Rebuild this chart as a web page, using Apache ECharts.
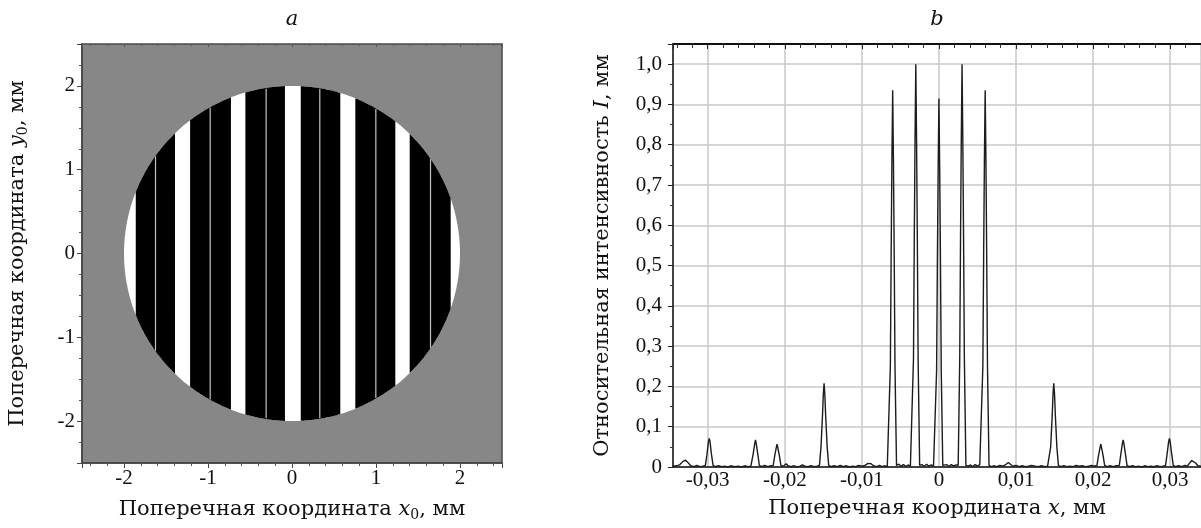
<!DOCTYPE html>
<html>
<head>
<meta charset="utf-8">
<script src="https://cdn.jsdelivr.net/npm/echarts@6/dist/echarts.min.js"></script>
<style>
html,body{margin:0;padding:0;background:#fff;}
#chart{width:1201px;height:528px;}
</style>
</head>
<body>
<div id="chart"></div>
<script>
// ---------- Panel a: binary mask (mm) ----------
const maskRadius = 2;
const maskCenter = [[0, 0]];
const blackStripes = [
  [-1.86, -1.393], [-1.213, -0.727], [-0.555, -0.084],
  [0.104, 0.575], [0.754, 1.23], [1.401, 1.889]
];
const thinLines = [-1.625, -0.974, -0.308, 0.331, 0.998, 1.649];
const maskTicks = ['-2', '-1', '0', '1', '2'];

// ---------- Panel b: intensity profile ----------
const profileX = [
-0.0345,-0.0340,-0.0336,-0.0332,-0.0329,-0.0326,-0.0322,-0.0318,-0.0314,-0.0310,-0.0306,
-0.0303,-0.0301,-0.0299,-0.0298,-0.0297,-0.0295,-0.0293,-0.0290,-0.0286,-0.0282,-0.0278,
-0.0274,-0.0270,-0.0265,-0.0260,-0.0256,-0.0252,-0.0248,-0.0244,
-0.0243,-0.0241,-0.0239,-0.0238,-0.0237,-0.0235,-0.0233,-0.0230,-0.0226,-0.0222,-0.0218,
-0.0215,-0.0213,-0.0211,-0.0210,-0.0209,-0.0207,-0.0205,-0.0202,-0.0200,-0.0198,-0.0196,
-0.0192,-0.0188,-0.0184,-0.0180,-0.0177,-0.0174,-0.0170,-0.0166,-0.0162,-0.0158,
-0.0155,-0.0153,-0.0151,-0.0150,-0.0149,-0.0148,-0.0147,-0.0145,-0.0143,
-0.0140,-0.0136,-0.0132,-0.0128,-0.0124,-0.0120,-0.0116,-0.0112,-0.0108,-0.0104,-0.0100,
-0.0096,-0.0092,-0.0090,-0.0088,-0.0085,-0.0081,-0.0077,-0.0074,-0.0070,-0.0067,
-0.0065,-0.0063,-0.0062,-0.0061,-0.0060,-0.0059,-0.0058,-0.0057,-0.0055,
-0.0052,-0.0049,-0.0046,-0.0043,-0.0040,-0.0037,
-0.0035,-0.0033,-0.0032,-0.0031,-0.0030,-0.0029,-0.0028,-0.0027,-0.0025,
-0.0022,-0.0019,-0.0016,-0.0013,-0.0010,-0.0007,
-0.0005,-0.0003,-0.0002,-0.0001,0.0000,0.0001,0.0002,0.0003,0.0005,
0.0007,0.0010,0.0013,0.0016,0.0019,0.0022,
0.0025,0.0027,0.0028,0.0029,0.0030,0.0031,0.0032,0.0033,0.0035,
0.0038,0.0041,0.0044,0.0047,0.0050,0.0053,
0.0055,0.0057,0.0058,0.0059,0.0060,0.0061,0.0062,0.0063,0.0065,
0.0068,0.0072,0.0075,0.0079,0.0083,0.0086,0.0088,0.0090,0.0092,0.0096,
0.0100,0.0104,0.0108,0.0112,0.0116,0.0120,0.0122,0.0125,0.0129,0.0133,0.0137,0.0141,
0.0143,0.0145,0.0147,0.0148,0.0149,0.0150,0.0151,0.0153,0.0155,
0.0158,0.0162,0.0166,0.0170,0.0174,0.0178,0.0182,0.0186,0.0190,0.0194,0.0198,0.0201,
0.0205,0.0207,0.0209,0.0210,0.0211,0.0213,0.0215,
0.0218,0.0222,0.0226,0.0230,
0.0234,0.0236,0.0238,0.0239,0.0240,0.0242,0.0244,
0.0247,0.0251,0.0255,0.0259,0.0263,0.0267,0.0271,0.0275,0.0279,0.0283,0.0287,0.0291,
0.0294,0.0296,0.0298,0.0299,0.0300,0.0302,0.0304,
0.0307,0.0311,0.0315,0.0319,0.0322,0.0325,0.0328,0.0330,0.0333,0.0336,0.0340
];
const profileI = [
0.002,0.003,0.006,0.014,0.017,0.012,0.003,0.001,0.004,0.001,0.002,
0.004,0.030,0.063,0.071,0.063,0.030,0.004,0.001,0.003,0.001,0.002,
0.000,0.003,0.001,0.002,0.000,0.003,0.001,0.002,
0.004,0.032,0.058,0.067,0.058,0.032,0.004,0.001,0.004,0.001,0.003,
0.004,0.028,0.048,0.057,0.048,0.028,0.004,0.002,0.006,0.008,0.003,
0.001,0.003,0.000,0.002,0.005,0.002,0.001,0.003,0.001,0.002,
0.004,0.050,0.130,0.180,0.208,0.180,0.130,0.050,0.004,
0.001,0.003,0.001,0.004,0.001,0.003,0.000,0.002,0.001,0.004,0.002,
0.004,0.009,0.011,0.008,0.003,0.001,0.004,0.001,0.003,0.001,
0.004,0.250,0.520,0.760,0.935,0.760,0.520,0.250,0.004,
0.007,0.002,0.006,0.001,0.005,0.002,
0.004,0.270,0.560,0.810,1.000,0.810,0.560,0.270,0.004,
0.006,0.001,0.007,0.002,0.005,0.002,
0.004,0.240,0.510,0.740,0.915,0.740,0.510,0.240,0.004,
0.002,0.006,0.001,0.006,0.002,0.005,
0.004,0.270,0.560,0.810,1.000,0.810,0.560,0.270,0.004,
0.002,0.005,0.001,0.006,0.002,0.006,
0.004,0.250,0.520,0.760,0.935,0.760,0.520,0.250,0.004,
0.001,0.003,0.001,0.004,0.002,0.005,0.009,0.011,0.007,0.002,
0.004,0.001,0.003,0.001,0.002,0.004,0.006,0.002,0.001,0.003,0.001,0.002,
0.004,0.050,0.130,0.180,0.208,0.180,0.130,0.050,0.004,
0.001,0.003,0.001,0.002,0.001,0.004,0.002,0.003,0.001,0.002,0.004,0.002,
0.004,0.028,0.048,0.057,0.048,0.028,0.004,
0.001,0.003,0.001,0.003,
0.004,0.032,0.058,0.067,0.058,0.032,0.004,
0.001,0.003,0.001,0.002,0.000,0.003,0.001,0.002,0.001,0.003,0.001,0.002,
0.004,0.032,0.063,0.071,0.063,0.032,0.004,
0.001,0.003,0.001,0.004,0.002,0.009,0.016,0.017,0.010,0.003,0.002
];
const profileTicks = ['-0,03', '-0,02', '-0,01', '0', '0,01', '0,02', '0,03'];
const intensityTicks = ['0', '0,1', '0,2', '0,3', '0,4', '0,5', '0,6', '0,7', '0,8', '0,9', '1,0'];

const FONT = 'Liberation Serif';
const NAME_FONT = 'DejaVu Serif';
const profileData = profileX.map((x, i) => [x, profileI[i]]);

function fmtMask(v) { return Math.abs(v - Math.round(v)) < 1e-9 ? String(Math.round(v)) : ''; }
function fmtProfile(v) {
  if (Math.abs(v) < 1e-9) return '0';
  return v.toFixed(2).replace('.', ',');
}
function fmtIntensity(v) {
  if (Math.abs(v) < 1e-9) return '0';
  return v.toFixed(1).replace('.', ',');
}

const richName = {
  t: { fontFamily: NAME_FONT, fontSize: 21, color: '#111' },
  i: { fontFamily: NAME_FONT, fontSize: 21, fontStyle: 'italic', color: '#111' },
  s: { fontFamily: NAME_FONT, fontSize: 14, color: '#111', padding: [10, 0, 0, 0] }
};

const chart = echarts.init(document.getElementById('chart'), null, { renderer: 'canvas' });

const option = {
  animation: false,
  backgroundColor: '#ffffff',
  graphic: [
    { type: 'text', x: 292, y: 20, style: { text: 'a', font: 'italic 21px "DejaVu Serif"', fill: '#111', textAlign: 'center', textVerticalAlign: 'middle' } },
    { type: 'text', x: 937, y: 20, style: { text: 'b', font: 'italic 21px "DejaVu Serif"', fill: '#111', textAlign: 'center', textVerticalAlign: 'middle' } }
  ],
  grid: [
    { left: 82, top: 44, width: 420, height: 419, show: true, backgroundColor: '#878787', borderColor: '#4a4a4a', borderWidth: 1.5 },
    { left: 673, top: 44, width: 528, height: 423, show: false }
  ],
  xAxis: [
    {
      gridIndex: 0, type: 'value', min: -2.5, max: 2.5, minInterval: 1, maxInterval: 1,
      axisLine: { show: true, onZero: false, lineStyle: { color: '#444', width: 1.5 } },
      axisTick: { show: true, inside: false, length: 5, lineStyle: { color: '#444' } },
      minorTick: { show: true, splitNumber: 5, length: 3, lineStyle: { color: '#555' } },
      splitLine: { show: false },
      axisLabel: { showMinLabel: false, showMaxLabel: false, formatter: fmtMask, fontFamily: FONT, fontSize: 21, color: '#111', margin: 5 },
      name: '{t|Поперечная координата }{i|x}{s|0}{t|, мм}', nameLocation: 'middle', nameGap: 35,
      nameTextStyle: { rich: richName }
    },
    {
      gridIndex: 1, type: 'value', min: -0.0345, max: 0.034, minInterval: 0.01, maxInterval: 0.01,
      axisLine: { show: true, onZero: false, lineStyle: { color: '#111', width: 1.5 } },
      axisTick: { show: false },
      splitLine: { show: true, lineStyle: { color: '#c9c9c9', width: 1.5 } },
      axisLabel: { showMinLabel: false, showMaxLabel: false, formatter: fmtProfile, fontFamily: FONT, fontSize: 21, color: '#111', margin: 3 },
      name: '{t|Поперечная координата }{i|x}{t|, мм}', nameLocation: 'middle', nameGap: 31,
      nameTextStyle: { rich: richName }
    },
    {
      gridIndex: 1, type: 'value', position: 'top', min: -0.0345, max: 0.034, minInterval: 0.01, maxInterval: 0.01,
      axisLine: { show: true, onZero: false, lineStyle: { color: '#111', width: 2 } },
      axisTick: { show: true, inside: true, length: 5, lineStyle: { color: '#222' } },
      minorTick: { show: true, splitNumber: 5, length: 4, lineStyle: { color: '#333' } },
      splitLine: { show: false },
      axisLabel: { show: false }
    },
    {
      gridIndex: 0, type: 'value', position: 'top', min: -2.5, max: 2.5, minInterval: 1, maxInterval: 1,
      axisLine: { show: false, onZero: false },
      axisTick: { show: true, inside: true, length: 3, lineStyle: { color: '#555' } },
      minorTick: { show: true, splitNumber: 5, length: 2, lineStyle: { color: '#5a5a5a' } },
      splitLine: { show: false },
      axisLabel: { show: false }
    }
  ],
  yAxis: [
    {
      gridIndex: 0, type: 'value', min: -2.5, max: 2.5, minInterval: 1, maxInterval: 1,
      axisLine: { show: true, onZero: false, lineStyle: { color: '#444', width: 1.5 } },
      axisTick: { show: true, inside: false, length: 5, lineStyle: { color: '#444' } },
      minorTick: { show: true, splitNumber: 4, length: 3, lineStyle: { color: '#555' } },
      splitLine: { show: false },
      axisLabel: { showMinLabel: false, showMaxLabel: false, formatter: fmtMask, fontFamily: FONT, fontSize: 21, color: '#111', margin: 7 },
      name: '{t|Поперечная координата }{i|y}{s|0}{t|, мм}', nameLocation: 'middle', nameGap: 52,
      nameTextStyle: { rich: richName }
    },
    {
      gridIndex: 1, type: 'value', min: 0, max: 1.05, interval: 0.1,
      axisLine: { show: true, onZero: false, lineStyle: { color: '#111', width: 1.5 } },
      axisTick: { show: true, inside: false, length: 5, lineStyle: { color: '#222' } },
      minorTick: { show: true, splitNumber: 2, length: 3, lineStyle: { color: '#333' } },
      splitLine: { show: true, lineStyle: { color: '#c9c9c9', width: 1.5 } },
      axisLabel: { showMaxLabel: false, formatter: fmtIntensity, fontFamily: FONT, fontSize: 21, color: '#111', margin: 11 },
      name: '{t|Относительная интенсивность }{i|I}{t|, мм}', nameLocation: 'middle', nameGap: 60,
      nameTextStyle: { rich: richName }
    }
  ],
  series: [
    {
      type: 'custom', xAxisIndex: 0, yAxisIndex: 0, data: maskCenter, silent: true, z: 2,
      renderItem: function (params, api) {
        const cx = api.value(0), cy = api.value(1);
        const pts = [];
        for (let k = 0; k <= 180; k++) {
          const t = k / 180 * 2 * Math.PI;
          pts.push(api.coord([cx + maskRadius * Math.cos(t), cy + maskRadius * Math.sin(t)]));
        }
        return { type: 'polygon', shape: { points: pts }, style: { fill: '#ffffff' } };
      }
    },
    {
      type: 'custom', xAxisIndex: 0, yAxisIndex: 0, data: blackStripes, silent: true, z: 3,
      renderItem: function (params, api) {
        const x1 = api.value(0), x2 = api.value(1);
        const n = 40, top = [], bot = [];
        for (let k = 0; k <= n; k++) {
          const x = x1 + (x2 - x1) * k / n;
          const h = Math.sqrt(Math.max(0, maskRadius * maskRadius - x * x));
          top.push(api.coord([x, h]));
          bot.push(api.coord([x, -h]));
        }
        return { type: 'polygon', shape: { points: top.concat(bot.reverse()) }, style: { fill: '#000000' } };
      }
    },
    {
      type: 'custom', xAxisIndex: 0, yAxisIndex: 0, data: thinLines.map(v => [v, 0]), silent: true, z: 4,
      renderItem: function (params, api) {
        const x = api.value(0);
        const h = Math.sqrt(maskRadius * maskRadius - x * x) * 0.995;
        const p1 = api.coord([x, -h]), p2 = api.coord([x, h]);
        return { type: 'line', shape: { x1: p1[0], y1: p1[1], x2: p2[0], y2: p2[1] }, style: { stroke: '#c4c4c4', lineWidth: 1.2 } };
      }
    },
    {
      type: 'line', xAxisIndex: 1, yAxisIndex: 1, data: profileData, showSymbol: false,
      lineStyle: { color: '#1c1c1c', width: 1.4 }, z: 5, clip: true
    }
  ]
};
chart.setOption(option);
</script>
</body>
</html>
